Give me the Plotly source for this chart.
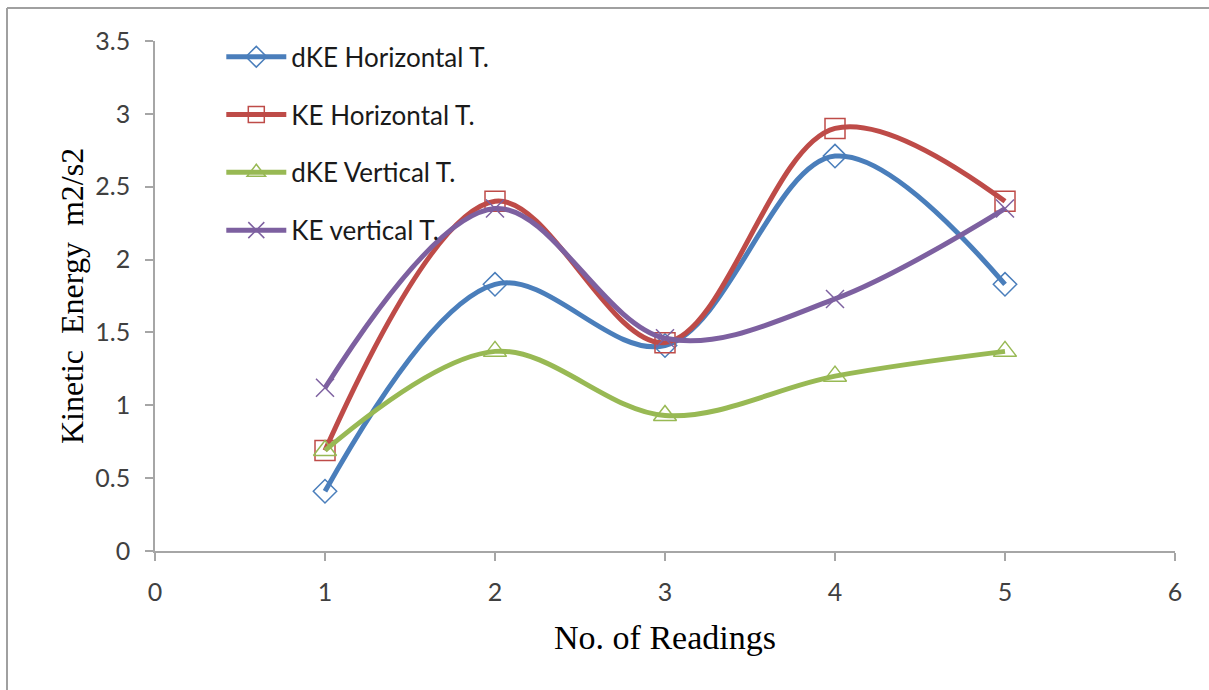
import plotly.graph_objects as go

# Readings (x) and kinetic energy values for each series
readings = [1, 2, 3, 4, 5]
dke_horizontal = [0.41, 1.83, 1.41, 2.71, 1.83]
ke_horizontal = [0.69, 2.40, 1.43, 2.90, 2.40]
dke_vertical = [0.69, 1.37, 0.93, 1.20, 1.37]
ke_vertical = [1.12, 2.35, 1.46, 1.73, 2.35]

series_names = ["dKE Horizontal T.", "KE Horizontal T.", "dKE Vertical T.", "KE vertical T."]
series_values = [dke_horizontal, ke_horizontal, dke_vertical, ke_vertical]
colors = ["#4A7EBB", "#BE4B48", "#98B954", "#7D60A0"]
symbols = ["diamond-open", "square-open", "triangle-up-open", "x-thin-open"]
marker_sizes = [18, 20, 20, 18]

x_ticks = [0, 1, 2, 3, 4, 5, 6]
y_ticks = [0, 0.5, 1, 1.5, 2, 2.5, 3, 3.5]

fig = go.Figure()
for i, (name, vals) in enumerate(zip(series_names, series_values)):
    fig.add_trace(go.Scatter(
        x=readings, y=vals, name=name,
        mode="lines+markers",
        line=dict(color=colors[i], width=5, shape="spline", smoothing=1.0),
        marker=dict(symbol=symbols[i], size=marker_sizes[i],
                    color=colors[i], line=dict(color=colors[i], width=1.5)),
        legendgroup=f"g{i}",
    ))

axis_grey = "#A6A6A6"
tick_font = dict(family="Lato", size=25, color="#404040")

fig.update_layout(
    width=1209, height=690,
    margin=dict(l=155, r=34, t=41, b=139),
    paper_bgcolor="white", plot_bgcolor="white",
    showlegend=True,
    legend=dict(
        x=0.065, y=1.015, xanchor="left", yanchor="top",
        font=dict(family="Lato", size=26, color="#1A1A1A"),
        bgcolor="rgba(0,0,0,0)",
        tracegroupgap=21, itemwidth=60,
    ),
    xaxis=dict(
        range=[0, 6], tickvals=x_ticks, ticktext=[str(v) for v in x_ticks],
        showgrid=False, zeroline=False,
        showline=True, linecolor=axis_grey, linewidth=2,
        ticks="outside", ticklen=8, tickcolor=axis_grey, tickwidth=1.5,
        tickfont=tick_font, ticklabelstandoff=10,
        title=dict(text="No. of Readings",
                   font=dict(family="Liberation Serif", size=34, color="#000000"),
                   standoff=20),
    ),
    yaxis=dict(
        range=[0, 3.5], tickvals=y_ticks, ticktext=[f"{v:g}" for v in y_ticks],
        showgrid=False, zeroline=False,
        showline=True, linecolor=axis_grey, linewidth=1.5,
        ticks="outside", ticklen=8, tickcolor=axis_grey, tickwidth=1.5,
        tickfont=tick_font, ticklabelstandoff=10,
        title=dict(text="Kinetic\u00a0 Energy\u00a0 m2/s2",
                   font=dict(family="Liberation Serif", size=32, color="#000000"),
                   standoff=2),
    ),
    shapes=[
        # frame around the chart area (left and top edges visible)
        dict(type="line", xref="paper", yref="paper",
             x0=(7 - 155) / 1020, x1=(7 - 155) / 1020,
             y0=(551 - 8) / 510, y1=(551 - 700) / 510,
             line=dict(color="#A0A0A0", width=2)),
        dict(type="line", xref="paper", yref="paper",
             x0=(7 - 155) / 1020, x1=(1215 - 155) / 1020,
             y0=(551 - 8) / 510, y1=(551 - 8) / 510,
             line=dict(color="#A0A0A0", width=2)),
    ],
)

fig.write_html("out.html")
